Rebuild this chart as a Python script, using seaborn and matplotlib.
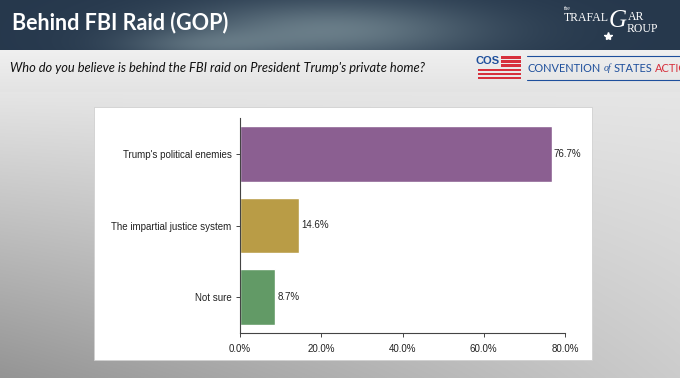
import numpy as np
import pandas as pd
import seaborn as sns
import matplotlib.pyplot as plt
from matplotlib.patches import Rectangle

# data
answers = ["Trump's political enemies", "The impartial justice system", "Not sure"]
shares = [76.7, 14.6, 8.7]
bar_colors = ["#8b5f91", "#b99c46", "#629a66"]
x_ticks = [0, 20, 40, 60, 80]

df = pd.DataFrame({"answer": answers, "share": shares})

sns.set_style("white")
plt.rcParams["font.family"] = ["Liberation Sans", "DejaVu Sans"]

W, H = 680, 378
fig = plt.figure(figsize=(6.8, 3.78), dpi=100)

# slide background (pixel coordinates)
bg = fig.add_axes([0, 0, 1, 1])
yy, xx = np.mgrid[0:H, 0:W].astype(float)
img = np.zeros((H, W, 3))
# lower gray area: darker towards bottom-left
t = np.clip((yy - 92) / (H - 92), 0, 1)
u = xx / W
g = 0.90 - t * (0.32 * (1 - u) + 0.10 * u)
for c in range(3):
    img[..., c] = g
# light band with the question
band = (yy >= 50) & (yy < 92)
gb = 0.94 - 0.05 * (yy - 50) / 42
for c in range(3):
    img[..., c] = np.where(band, gb, img[..., c])
# stormy header
head = yy < 50
cloud = np.exp(-(((xx - 330) / 150) ** 2 + ((yy - 30) / 30) ** 2))
cloud2 = np.exp(-(((xx - 200) / 80) ** 2 + ((yy - 45) / 15) ** 2))
base = np.array([0.15, 0.22, 0.30])
light = np.array([0.52, 0.60, 0.63])
mix = np.clip(0.7 * cloud + 0.35 * cloud2, 0, 1)
for c in range(3):
    img[..., c] = np.where(head, base[c] + (light[c] - base[c]) * mix, img[..., c])
bg.imshow(img, extent=(0, W, H, 0), aspect="auto", interpolation="bilinear")
bg.set_xlim(0, W)
bg.set_ylim(H, 0)
bg.axis("off")

# white chart panel
bg.add_patch(Rectangle((94, 107), 498, 253, facecolor="white", edgecolor="#d0d0d0", lw=0.6))

# header texts
bg.text(12, 23, "Behind FBI Raid (GOP)", color="white", fontsize=15.5, fontweight="bold",
        family=["Lato", "DejaVu Sans"], va="center", ha="left")
bg.text(10, 68, "Who do you believe is behind the FBI raid on President Trump's private home?",
        color="#111111", fontsize=9.3, style="italic", family=["Lato", "DejaVu Sans"],
        va="center", ha="left")

# Trafalgar logo
serif = ["Liberation Serif", "DejaVu Serif"]
bg.text(564, 8, "the", color="white", fontsize=4, family=serif, va="center")
bg.text(564, 18, "TRAFAL", color="white", fontsize=8.5, family=serif, va="center")
bg.text(609, 21, "G", color="white", fontsize=18, style="italic", family=serif, va="center")
bg.text(628, 17, "AR", color="white", fontsize=8.5, family=serif, va="center")
bg.text(627, 29, "ROUP", color="white", fontsize=8.5, family=serif, va="center")
bg.plot([608], [36], marker="*", color="white", ms=6)

# COS logo
red, blue = "#d7303c", "#1e4f9c"
for yv in [57.5, 61.5, 65.5]:
    bg.add_patch(Rectangle((501, yv - 1.3), 20, 2.6, facecolor=red, lw=0))
for yv in [70, 74, 78]:
    bg.add_patch(Rectangle((478, yv - 1.3), 43, 2.6, facecolor=red, lw=0))
bg.text(488, 61.5, "COS", color=blue, fontsize=8, fontweight="bold", ha="center", va="center",
        family=["Liberation Sans Narrow", "Liberation Sans"])
bg.plot([527, 680], [56, 56], color=blue, lw=0.8)
bg.plot([527, 680], [80, 80], color=blue, lw=0.8)

renderer = fig.canvas.get_renderer()
x0 = 528
parts = [("CONVENTION", blue, "normal", ["Lato", "DejaVu Sans"], 7.9),
         ("of", blue, "italic", serif, 7),
         ("STATES", blue, "normal", ["Lato", "DejaVu Sans"], 7.9),
         ("ACTION", red, "normal", ["Lato", "DejaVu Sans"], 7.9)]
for word, col, sty, fam, fs in parts:
    tx = bg.text(x0, 68.5, word, color=col, fontsize=fs, style=sty, family=fam,
                 ha="left", va="center", clip_on=True)
    bb = tx.get_window_extent(renderer)
    x0 += bb.width + 2.5

# bar chart
ax = fig.add_axes([240 / W, 1 - 333 / H, 325 / W, 215 / H])
ax.set_facecolor("none")
sns.barplot(data=df, x="share", y="answer", hue="answer", palette=bar_colors,
            width=0.78, saturation=1, legend=False, ax=ax)
ax.set_xlim(0, 80)
ax.set_ylim(2.5, -0.5)
ax.set_xticks(x_ticks)
ax.set_xticklabels([f"{v:.1f}%" for v in x_ticks])
ax.set_xlabel("")
ax.set_ylabel("")
for cont in ax.containers:
    ax.bar_label(cont, labels=[f"{v:.1f}%" for v in cont.datavalues], padding=1.5,
                 fontsize=7, color="#222222")
for s in ["top", "right"]:
    ax.spines[s].set_visible(False)
for s in ["left", "bottom"]:
    ax.spines[s].set_color("#444444")
    ax.spines[s].set_linewidth(0.8)
ax.tick_params(axis="both", length=3, width=0.7, color="#444444", labelsize=7,
               labelcolor="#222222", pad=3)
ax.tick_params(axis="x", pad=5)
ax.tick_params(axis="both", which="both", bottom=True, left=True)

fig.savefig("out.png", dpi=100)
